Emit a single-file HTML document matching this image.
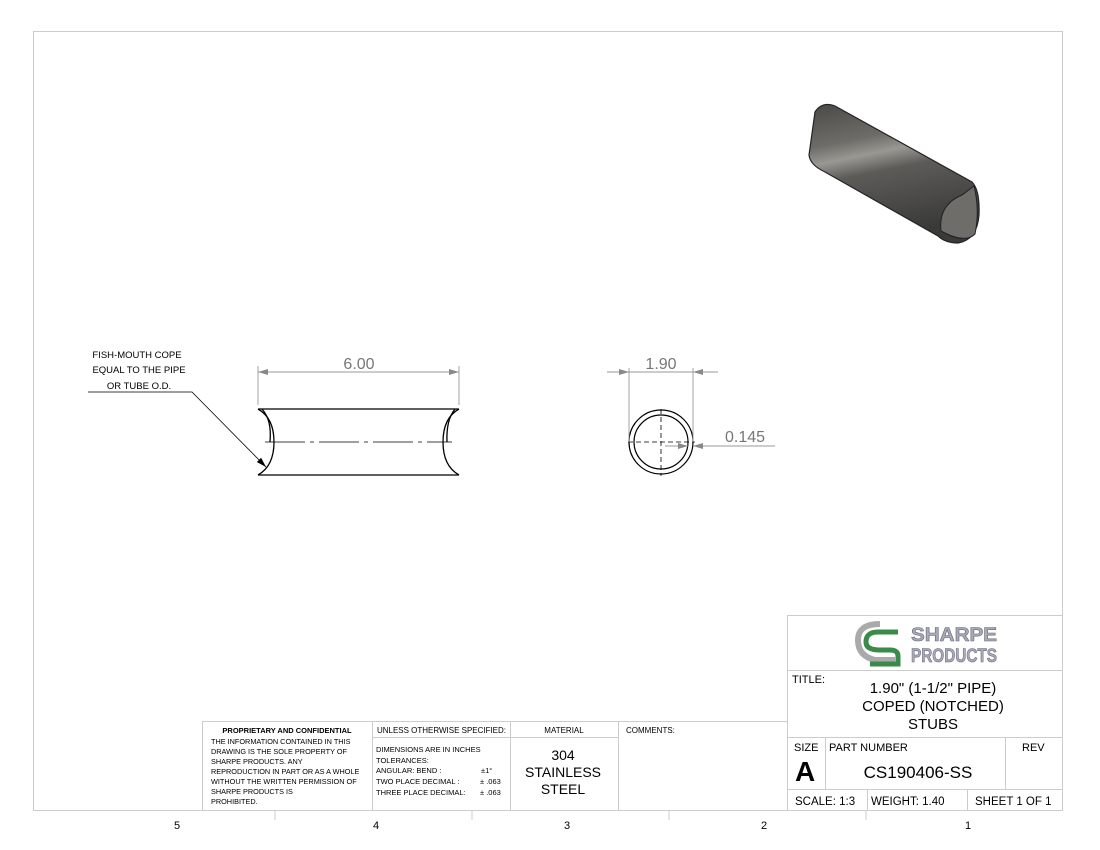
<!DOCTYPE html>
<html><head><meta charset="utf-8"><style>
html,body{margin:0;padding:0;background:#fff;}
svg{display:block;font-family:"Liberation Sans",sans-serif;}
</style></head><body>
<svg width="1100" height="850" viewBox="0 0 1100 850" xmlns="http://www.w3.org/2000/svg">
<defs>
<linearGradient id="g" x1="0" y1="0" x2="0.25" y2="1">
<stop offset="0" stop-color="#4a4946"/><stop offset="0.3" stop-color="#6e6c68"/><stop offset="0.42" stop-color="#9a9893"/><stop offset="0.55" stop-color="#5c5b58"/><stop offset="1" stop-color="#3a3a38"/>
</linearGradient>
<marker id="a" viewBox="0 0 10 6" refX="10" refY="3" markerWidth="10" markerHeight="6" orient="auto-start-reverse" markerUnits="userSpaceOnUse"><path d="M0,0 L10,3 L0,6z" fill="#888"/></marker>
<marker id="b" viewBox="0 0 10 6" refX="10" refY="3" markerWidth="10" markerHeight="6" orient="auto" markerUnits="userSpaceOnUse"><path d="M0,0 L10,3 L0,6z" fill="#000"/></marker>
</defs>
<rect x="33.5" y="31.5" width="1029" height="779" fill="none" stroke="#ccc"/>
<g stroke="#ccc"><line x1="275" y1="811" x2="275" y2="820"/><line x1="472" y1="811" x2="472" y2="820"/><line x1="669" y1="811" x2="669" y2="820"/><line x1="866" y1="811" x2="866" y2="820"/></g>
<g font-size="11" text-anchor="middle" fill="#000"><text x="177" y="829">5</text><text x="376" y="829">4</text><text x="567" y="829">3</text><text x="764" y="829">2</text><text x="968" y="829">1</text></g>

<!-- 3D pipe -->
<path d="M815,112 Q822,101 835,106 L972,182 Q980,190 979,215 Q977,240 958,243 Q945,243 938,236 L825,172 Q810,165 809,155 Z" fill="url(#g)" stroke="#222" stroke-width="1.2"/>
<path d="M941,231 Q938,205 962,195 L974,186 Q980,210 975,234 Q965,244 941,231 Z" fill="#6f6d6a" stroke="#222"/>

<!-- side view -->
<g stroke="#000" stroke-width="1.3" fill="none">
<line x1="258" y1="409" x2="459" y2="409"/><line x1="258" y1="475" x2="459" y2="475"/>
<path d="M258,409 Q274,418 274,442 Q274,466 258,475"/>
<path d="M262,409 Q272,420 270,442"/>
<path d="M459,409 Q443,418 443,442 Q443,466 459,475"/>
<path d="M455,409 Q446,420 447,442"/>
</g>
<line x1="265" y1="442" x2="452" y2="442" stroke="#000" stroke-width="0.8" stroke-dasharray="40,5,4,5"/>
<g stroke="#999" stroke-width="0.9"><line x1="258" y1="366" x2="258" y2="405"/><line x1="459" y1="366" x2="459" y2="405"/>
<line x1="258" y1="372" x2="459" y2="372" marker-start="url(#a)" marker-end="url(#a)"/></g>
<text x="359" y="369" font-size="16" fill="#777" text-anchor="middle">6.00</text>
<g font-size="9.5" fill="#000" text-anchor="middle"><text x="137" y="358">FISH-MOUTH COPE</text><text x="139" y="373">EQUAL TO THE PIPE</text><text x="139" y="389">OR TUBE O.D.</text></g>
<polyline points="88,392 192,392 266,467" fill="none" stroke="#000" stroke-width="0.8" marker-end="url(#b)"/>

<!-- end view -->
<circle cx="661" cy="442" r="32" fill="none" stroke="#000" stroke-width="1.2"/>
<circle cx="661" cy="442" r="27" fill="none" stroke="#000" stroke-width="1.2"/>
<g stroke="#000" stroke-width="0.8" stroke-dasharray="5,3"><line x1="628" y1="442" x2="695" y2="442"/><line x1="661" y1="409" x2="661" y2="476"/></g>
<g stroke="#999" stroke-width="0.9"><line x1="629" y1="368" x2="629" y2="442"/><line x1="693" y1="368" x2="693" y2="442"/>
<line x1="607" y1="372" x2="629" y2="372" marker-end="url(#a)"/><line x1="718" y1="372" x2="693" y2="372" marker-end="url(#a)"/><line x1="629" y1="372" x2="693" y2="372"/>
<line x1="665" y1="446" x2="688" y2="446" marker-end="url(#a)"/><line x1="775" y1="446" x2="693" y2="446" marker-end="url(#a)"/></g>
<text x="661" y="369" font-size="16" fill="#777" text-anchor="middle">1.90</text>
<text x="745" y="442" font-size="16" fill="#777" text-anchor="middle">0.145</text>

<!-- title block -->
<g stroke="#ccc" fill="none">
<rect x="787.5" y="615.5" width="275" height="195"/>
<line x1="787" y1="670.5" x2="1062" y2="670.5"/><line x1="787" y1="737.5" x2="1062" y2="737.5"/><line x1="787" y1="789.5" x2="1062" y2="789.5"/>
<line x1="825.5" y1="737" x2="825.5" y2="789"/><line x1="1005.5" y1="737" x2="1005.5" y2="789"/>
<line x1="867.5" y1="789" x2="867.5" y2="810"/><line x1="967.5" y1="789" x2="967.5" y2="810"/>
<rect x="202.5" y="721.5" width="585" height="89"/>
<line x1="372.5" y1="721" x2="372.5" y2="810"/><line x1="510.5" y1="721" x2="510.5" y2="810"/><line x1="618.5" y1="721" x2="618.5" y2="810"/>
<line x1="372" y1="737.5" x2="618" y2="737.5"/>
</g>
<!-- logo -->
<path d="M880,624 Q858,624 858,640 Q858,656 875,660 L895,660" fill="none" stroke="#aaa" stroke-width="6"/>
<path d="M898,632 L878,632 Q866,632 866,642 Q866,650 880,650 L890,650 Q898,650 898,656 L898,664 L870,664" fill="none" stroke="#3a8a4a" stroke-width="5"/>
<text x="954" y="641" font-size="19" font-weight="bold" fill="#aab" stroke="#667" stroke-width="0.6" text-anchor="middle" textLength="86" lengthAdjust="spacingAndGlyphs">SHARPE</text>
<text x="954" y="662" font-size="19" font-weight="bold" fill="#aab" stroke="#667" stroke-width="0.6" text-anchor="middle" textLength="86" lengthAdjust="spacingAndGlyphs">PRODUCTS</text>
<g fill="#000">
<text x="792" y="683" font-size="11">TITLE:</text>
<g font-size="15" text-anchor="middle"><text x="933" y="693">1.90" (1-1/2" PIPE)</text><text x="933" y="711">COPED (NOTCHED)</text><text x="933" y="729">STUBS</text></g>
<text x="794" y="751" font-size="11">SIZE</text><text x="829" y="751" font-size="11">PART NUMBER</text><text x="1022" y="751" font-size="11">REV</text>
<text x="795" y="781" font-size="28" font-weight="bold">A</text>
<text x="918" y="778" font-size="17" text-anchor="middle">CS190406-SS</text>
<text x="795" y="805" font-size="11.5">SCALE: 1:3</text><text x="871" y="805" font-size="11.5">WEIGHT: 1.40</text><text x="975" y="805" font-size="11.5">SHEET 1 OF 1</text>
<text x="287" y="733" font-size="7.5" font-weight="bold" text-anchor="middle">PROPRIETARY AND CONFIDENTIAL</text>
<g font-size="7.3"><text x="211" y="744">THE INFORMATION CONTAINED IN THIS</text><text x="211" y="754">DRAWING IS THE SOLE PROPERTY OF</text><text x="211" y="764">SHARPE PRODUCTS.  ANY</text><text x="211" y="774">REPRODUCTION IN PART OR AS A WHOLE</text><text x="211" y="784">WITHOUT THE WRITTEN PERMISSION OF</text><text x="211" y="794">SHARPE PRODUCTS IS</text><text x="211" y="804">PROHIBITED.</text></g>
<text x="377" y="733" font-size="8.5" textLength="129" lengthAdjust="spacingAndGlyphs">UNLESS OTHERWISE SPECIFIED:</text>
<g font-size="7.5"><text x="376" y="752">DIMENSIONS ARE IN INCHES</text><text x="376" y="763">TOLERANCES:</text><text x="376" y="773">ANGULAR: BEND :</text><text x="481" y="773">±1°</text><text x="376" y="784">TWO PLACE DECIMAL  :</text><text x="480" y="784">± .063</text><text x="376" y="795">THREE PLACE DECIMAL:</text><text x="480" y="795">± .063</text></g>
<text x="564" y="733" font-size="8" text-anchor="middle">MATERIAL</text>
<g font-size="14" text-anchor="middle"><text x="563" y="760">304</text><text x="563" y="777">STAINLESS</text><text x="563" y="794">STEEL</text></g>
<text x="626" y="733" font-size="8">COMMENTS:</text>
</g>
</svg>
</body></html>
